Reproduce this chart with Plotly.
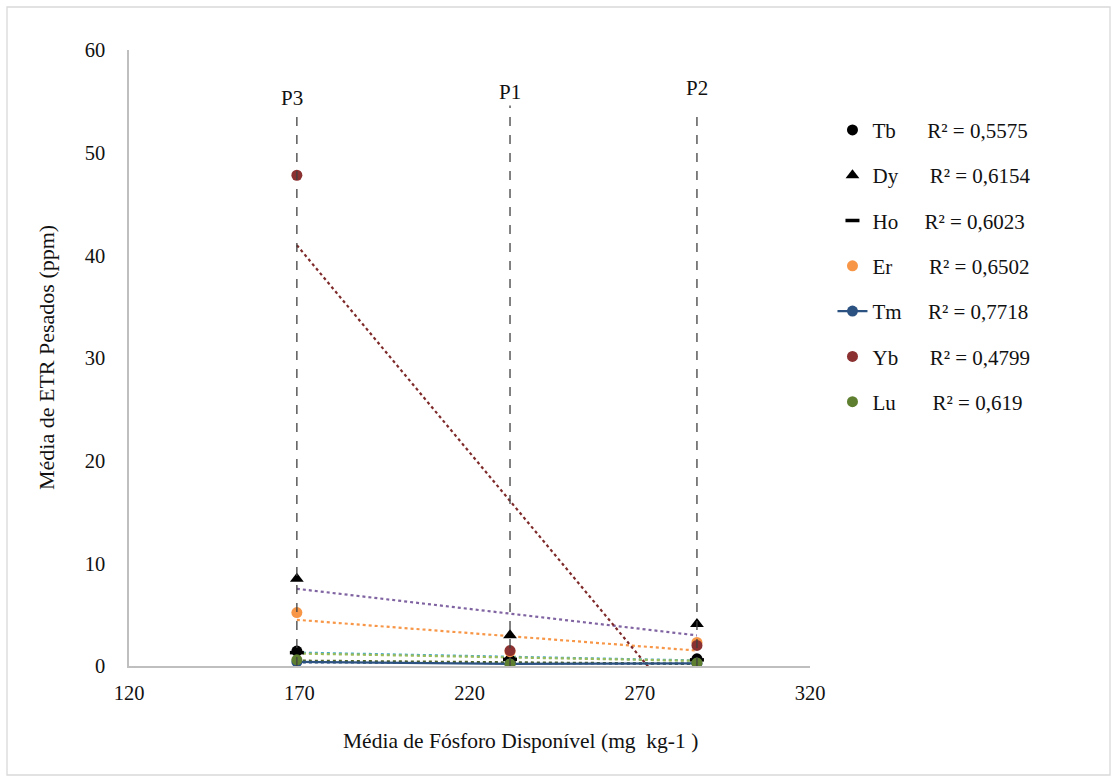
import numpy as np
import plotly.graph_objects as go

# Sites and mean available phosphorus (mg kg-1)
sites = ["P3", "P1", "P2"]
fosforo = [169.3, 231.9, 286.8]

# Mean heavy REE contents (ppm) per site, same order as `sites`
tb = [1.45, 0.6, 0.7]
dy = [8.5, 3.0, 4.1]
ho = [1.3, 0.65, 0.6]
er = [5.2, 1.4, 2.3]
tm = [0.4, 0.2, 0.25]
yb = [47.8, 1.5, 2.0]
lu = [0.6, 0.2, 0.3]

r2_labels = ["0,5575", "0,6154", "0,6023", "0,6502", "0,7718", "0,4799", "0,619"]

# Top of the dashed site guides and their label heights (ppm)
guide_tops = [53.7, 54.6, 54.0]
label_heights = [54.0, 54.5, 54.9]

x_ticks = [120, 170, 220, 270, 320]
y_ticks = [0, 10, 20, 30, 40, 50, 60]

FONT = "Liberation Serif"
INK = "#111111"
NB = "\u00a0"

series = [
    # name, values, marker color, symbol, trend color, gap before R²
    ("Tb", tb, "#000000", "circle", "#4BACC6", 6),
    ("Dy", dy, "#000000", "triangle-up", "#8064A2", 6),
    ("Ho", ho, "#000000", "line-ew", "#9BBB59", 5),
    ("Er", er, "#F79646", "circle", "#F79646", 7),
    ("Tm", tm, "#2C5282", "circle", "#1F497D", 5),
    ("Yb", yb, "#8B3131", "circle", "#7F2A2A", 6),
    ("Lu", lu, "#5E7F2F", "circle", "#4F6228", 7),
]

fig = go.Figure()
x_arr = np.array(fosforo)

# Linear trendlines over the sampled phosphorus range
for name, vals, mcol, sym, tcol, gap in series:
    slope, icpt = np.polyfit(x_arr, np.array(vals), 1)
    xs = np.array([x_arr.min(), x_arr.max()])
    fig.add_trace(go.Scatter(
        x=xs, y=slope * xs + icpt, mode="lines",
        line=dict(color=tcol, width=2.2, dash="dot"),
        showlegend=False, hoverinfo="skip", cliponaxis=True,
    ))

# Guides marking each site
for s, xv, top, lab in zip(sites, fosforo, guide_tops, label_heights):
    fig.add_shape(type="line", x0=xv, x1=xv, y0=0, y1=top, xref="x", yref="y",
                  line=dict(color="#404040", width=1.3, dash="dash"))
    fig.add_annotation(x=xv, y=lab, text=s, showarrow=False, xref="x", yref="y",
                       yanchor="bottom", xshift=-5 if s == "P3" else 0,
                       font=dict(family=FONT, size=21, color=INK))

order = np.argsort(x_arr)
for i, (name, vals, mcol, sym, tcol, gap) in enumerate(series):
    label = name + NB * gap + "R² = " + r2_labels[i]
    xs = x_arr[order]
    ys = np.array(vals)[order]
    if name == "Tm":
        fig.add_trace(go.Scatter(
            x=xs, y=ys, mode="lines+markers", name=label, legendgroup=name,
            line=dict(color=mcol, width=2.2),
            marker=dict(color=mcol, size=11, symbol=sym),
        ))
    elif sym == "line-ew":
        fig.add_trace(go.Scatter(
            x=xs, y=ys, mode="markers", name=label, legendgroup=name,
            marker=dict(color=mcol, size=10, symbol=sym,
                        line=dict(color=mcol, width=3.5)),
        ))
    else:
        fig.add_trace(go.Scatter(
            x=xs, y=ys, mode="markers", name=label, legendgroup=name,
            marker=dict(color=mcol, size=11 if sym == "circle" else 12, symbol=sym),
        ))

fig.add_annotation(text="Média de Fósforo Disponível (mg  kg-1 )", xref="paper", yref="paper",
                   x=(520 - 129) / 681, y=-(741 - 666) / 616, showarrow=False,
                   xanchor="center", yanchor="middle",
                   font=dict(family=FONT, size=21.5, color=INK))
fig.add_annotation(text="Média de ETR Pesados (ppm)", xref="paper", yref="paper",
                   x=-(129 - 46) / 681, y=0.5, textangle=-90, showarrow=False,
                   xanchor="center", yanchor="middle",
                   font=dict(family=FONT, size=22, color=INK))

# Outer frame of the chart
fig.add_shape(type="rect", xref="paper", yref="paper",
              x0=-(129 - 7) / 681, x1=(1110 - 129) / 681,
              y0=-(775 - 666) / 616, y1=(666 - 7) / 616,
              line=dict(color="#D9D9D9", width=1.3), layer="below")

fig.update_layout(
    width=1117, height=782,
    margin=dict(l=129, r=307, t=50, b=116),
    paper_bgcolor="white", plot_bgcolor="white",
    font=dict(family=FONT, size=21, color=INK),
    showlegend=True,
    legend=dict(x=1.033, y=0.903, xanchor="left", yanchor="top",
                traceorder="grouped", tracegroupgap=15,
                font=dict(family=FONT, size=21, color=INK),
                bgcolor="rgba(0,0,0,0)"),
    xaxis=dict(range=[120, 320], tickvals=x_ticks, showgrid=False, zeroline=False,
               showline=True, linecolor="#BFBFBF", linewidth=1.5, ticks="",
               ticklabelstandoff=8, tickfont=dict(family=FONT, size=20.5, color=INK)),
    yaxis=dict(range=[0, 60], tickvals=y_ticks, showgrid=False, zeroline=False,
               showline=True, linecolor="#BFBFBF", linewidth=1.5, ticks="",
               ticklabelstandoff=18, tickfont=dict(family=FONT, size=20.5, color=INK)),
)

fig.write_html("out.html")
